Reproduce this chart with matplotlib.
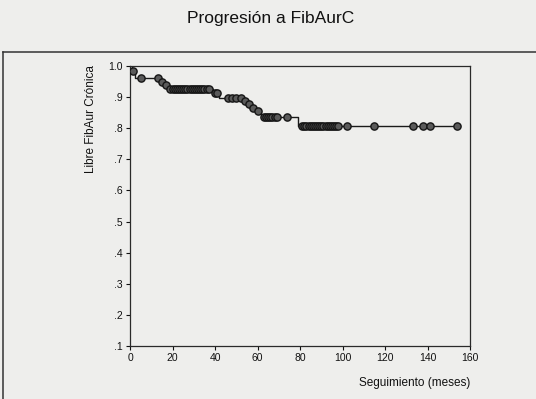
import matplotlib
matplotlib.use("Agg")
import matplotlib.pyplot as plt
from matplotlib.lines import Line2D

# Kaplan-Meier step data (time in months, survival after the step)
event_times = [0, 1, 2.5, 14, 16, 18, 39, 42, 53, 55, 57, 59, 61, 62, 79]
survival = [1.0, 0.983, 0.960, 0.950, 0.940, 0.925, 0.912, 0.898,
            0.887, 0.877, 0.866, 0.856, 0.845, 0.835, 0.806]
end_time = 154

# censored observations (time)
censor_times = [1.5, 5, 13, 15, 17,
                19, 20, 21, 22, 23, 24, 25, 26, 27, 28, 29, 30, 31, 32, 33, 34, 35, 36, 37,
                40, 41, 46, 48, 50, 52, 54, 56, 58, 60,
                63, 64, 65, 66, 67, 68, 69, 74,
                81, 82, 83, 84, 85, 86, 87, 88, 89, 90, 91, 92, 93, 94, 95, 96, 97, 98,
                102, 115, 133, 138, 141, 154]

x_ticks = [0, 20, 40, 60, 80, 100, 120, 140, 160]
y_ticks = [0.1, 0.2, 0.3, 0.4, 0.5, 0.6, 0.7, 0.8, 0.9, 1.0]
y_tick_labels = [".1", ".2", ".3", ".4", ".5", ".6", ".7", ".8", ".9", "1.0"]

title = "Progresión a FibAurC"
ylabel = "Libre FibAur Crónica"
xlabel = "Seguimiento (meses)"

bg = "#eeeeec"
plt.rcParams['font.family'] = ['Liberation Sans', 'DejaVu Sans']

fig = plt.figure(figsize=(5.36, 3.99), dpi=100, facecolor=bg)
W, H = 536, 399
ax = fig.add_axes([130 / W, 1 - 346 / H, 340 / W, 280 / H])
ax.set_facecolor(bg)

# step line
xs = list(event_times) + [end_time]
ys = list(survival) + [survival[-1]]
ax.step(xs, ys, where="post", color="#1a1a1a", lw=1.0, zorder=2)

# survival at censor times
def surv_at(t):
    s = 1.0
    for et, sv in zip(event_times, survival):
        if et <= t:
            s = sv
    return s

cy = [surv_at(t) for t in censor_times]
ax.plot(censor_times, cy, linestyle="none", marker="o", markersize=5.2,
        markerfacecolor="#5a5a5a", markeredgecolor="#151515", markeredgewidth=1.0, zorder=3)

ax.set_xlim(0, 160)
ax.set_ylim(0.1, 1.0)
ax.set_xticks(x_ticks)
ax.set_xticklabels([str(v) for v in x_ticks])
ax.set_yticks(y_ticks)
ax.set_yticklabels(y_tick_labels)
ax.tick_params(axis="both", direction="out", length=3, width=0.8, colors="#111111",
               labelsize=7.5, pad=2)
for sp in ax.spines.values():
    sp.set_color("#2a2a2a")
    sp.set_linewidth(0.9)

# titles and labels
fig.text(271 / W, 1 - 18 / H, title, ha="center", va="center", fontsize=12.5, color="#111111")
fig.text(91 / W, 1 - 65 / H, ylabel, ha="center", va="top", rotation=90, fontsize=8.5,
         color="#111111")
fig.text(470 / W, 1 - 383 / H, xlabel, ha="right", va="center", fontsize=8.5, color="#111111")

# outer frame (scan border)
fig.add_artist(Line2D([3 / W, 1.0], [1 - 52 / H, 1 - 52 / H], transform=fig.transFigure,
                      color="#333333", lw=1.1))
fig.add_artist(Line2D([3 / W, 3 / W], [0.0, 1 - 52 / H], transform=fig.transFigure,
                      color="#333333", lw=1.1))

fig.savefig("out.png", dpi=100, facecolor=bg)
